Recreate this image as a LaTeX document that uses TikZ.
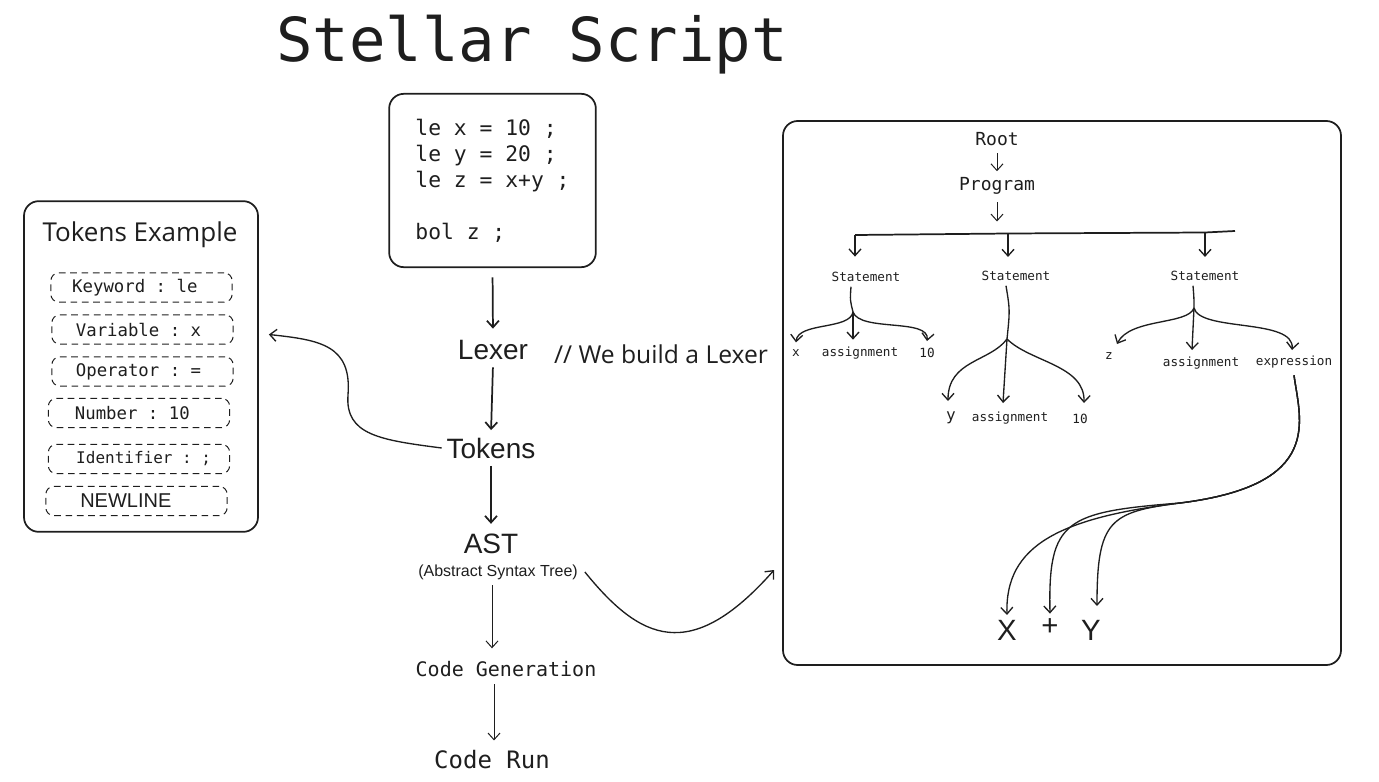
\documentclass[tikz,border=0pt]{standalone}
\usepackage{fontspec}
\setmainfont{Liberation Sans}
\setmonofont{DejaVu Sans Mono}
\newfontfamily\handfont{Open Sans}
\usetikzlibrary{arrows.meta,calc}

\definecolor{ink}{HTML}{1E1E1E}

\tikzset{every picture/.style={line width=0.75pt}}
\tikzset{
  arr/.style={-{Straight Barb[length=5pt,width=9pt]}},
  bigbox/.style={draw, rounded corners=11pt, line width=1.3pt},
  tokbox/.style={draw, dashed, dash pattern=on 5pt off 3.5pt, rounded corners=6pt,
    minimum width=136pt, minimum height=22pt, font=\ttfamily\fontsize{13}{15}\selectfont},
  stage/.style={font=\fontsize{21}{24}\selectfont},
  monostage/.style={font=\ttfamily\fontsize{15}{18}\selectfont},
  treehead/.style={font=\ttfamily\fontsize{13.5}{16}\selectfont},
  stmt/.style={font=\ttfamily\fontsize{9.5}{11}\selectfont},
  leaf/.style={font=\ttfamily\fontsize{9.5}{11}\selectfont, inner sep=5pt},
  expr/.style={font=\fontsize{22}{24}\selectfont},
  link/.style={line width=1pt}
}

\begin{document}
\begin{tikzpicture}[x=0.75pt,y=0.75pt,yscale=-1,xscale=1,draw=ink,text=ink]
\useasboundingbox (0,0) rectangle (1379,782);

% Title
\node (title) at (532,45) {\ttfamily\fontsize{45.5}{50}\selectfont Stellar Script};

% Code Box
\node [bigbox, minimum width=155pt, minimum height=130pt, inner xsep=17pt, align=left,
  font=\ttfamily\fontsize{16}{19.5}\selectfont] (code) at (492.5,180.5)
  {le x = 10 ;\hspace*{2pt}\\le y = 20 ;\\le z = x+y ;\\[19.5pt]bol z ;};

% Pipeline
\node [stage] (lexer) at (493,350) {Lexer};
\node [font=\handfont\fontsize{18.5}{20}\selectfont] (note) at (661,354) {// We build a Lexer};
\node [stage] (tok) at (491,448) {Tokens};
\node [stage] (ast) at (491,544) {AST};
\node [font=\fontsize{12}{14}\selectfont, inner sep=2pt] (astsub) at (498,572) {(Abstract Syntax Tree)};
\node [monostage] (codegen) at (506,669) {Code Generation};
\node [font=\ttfamily\fontsize{18}{20}\selectfont] (coderun) at (492,760) {Code Run};

% Tokens Example
\node [bigbox, minimum width=175.5pt, minimum height=248pt] (tex) at (141,366.5) {};
\node [font=\handfont\fontsize{19.5}{22}\selectfont] (textitle) at (140,235) {Tokens Example};
\node [tokbox] (tk1) at (141.5,287.5) {Keyword : le\hspace*{10pt}};
\node [tokbox] (tk2) at (142.5,329.5) {Variable : x\hspace*{6pt}};
\node [tokbox] (tk3) at (142.5,371.5) {Operator : =\hspace*{6pt}};
\node [tokbox] (tk4) at (139,413) {Number : 10\hspace*{10pt}};
\node [tokbox, font=\ttfamily\fontsize{12}{14}\selectfont] (tk5) at (139,459) {\hspace*{7pt}Identifier : ;};
\node [tokbox, font=\fontsize{15}{17}\selectfont] (tk6) at (136.5,501) {NEWLINE\hspace*{16pt}};

% Tree Box
\node [bigbox, minimum width=418.5pt, minimum height=408pt] (tree) at (1062,393) {};
\node [treehead] (root) at (997,139) {Root};
\node [treehead] (prog) at (997,186) {Program};
\coordinate (barl) at (855,235);
\coordinate (bar2) at (1008,233.5);
\coordinate (bar3) at (1205,232.5);
\coordinate (barr) at (1235,231);
\node [stmt] (st1) at (866,277) {Statement};
\node [stmt] (st2) at (1016,276) {Statement};
\node [stmt] (st3) at (1205,276) {Statement};
\coordinate (f1) at (853,312);
\coordinate (f2) at (1007,339);
\coordinate (f3) at (1194,308);
\node [leaf] (c1x) at (796,353) {x};
\node [leaf] (c1a) at (860,353) {assignment};
\node [leaf] (c1t) at (927,353) {10};
\node [leaf, font=\ttfamily\fontsize{12}{14}\selectfont] (c2y) at (951,418) {y};
\node [leaf] (c2a) at (1010,418) {assignment};
\node [leaf] (c2t) at (1080,419) {10};
\node [leaf] (c3z) at (1109,356) {z};
\node [leaf] (c3a) at (1201,363) {assignment};
\node [leaf] (c3e) at (1294,362) {expression};
\node [expr] (ex) at (1007,630) {X};
\node [expr] (ep) at (1050,627) {+};
\node [expr] (ey) at (1091,630) {Y};

% Connection
\draw [arr, line width=1.3pt, shorten <=7pt, shorten >=5pt] (code.south) -- (lexer.north);
\draw [arr, line width=1.3pt, shorten <=2pt, shorten >=2pt] (lexer.south) -- (tok.north);
\draw [arr, line width=1.3pt, shorten <=2pt, shorten >=4pt] (tok.south) -- (ast.north);
\draw [arr, shorten <=2pt, shorten >=6pt] ($(astsub.south)+(-6,0)$) -- ($(astsub.south |- codegen.north)+(-6,0)$);
\draw [arr, shorten <=2pt, shorten >=4pt] ($(codegen.south)+(-12,0)$) -- ($(codegen.south |- coderun.north)+(-12,0)$);
\draw [arr, link] (tok.west) .. controls (380,440) and (345,435) .. (348,395)
  .. controls (352,345) and (320,340) .. ($(tex.east)+(10,-32)$);
\draw [arr, link] ($(astsub.east)+(4,0)$) .. controls (640,640) and (690,665) .. ($(tree.west)+(-8,177)$);

% Tree connections
\draw [arr, shorten <=2pt, shorten >=1pt] (root.south) -- (prog.north);
\draw [arr, shorten <=2pt, shorten >=9pt] (prog.south) -- (prog.south |- bar2);
\draw [line width=1.3pt] (barl) -- (bar2) -- (bar3) -- (barr);
\draw [arr, link, shorten >=8pt] (barl) -- (barl |- st1.north);
\draw [arr, link, shorten >=7pt] (bar2) -- (bar2 |- st2.north);
\draw [arr, link, shorten >=7pt] (bar3) -- (bar3 |- st3.north);

\draw [link] ($(st1.south)+(-15,0)$) .. controls (850,300) .. (f1);
\draw [arr, link] (f1) .. controls (850,330) and (798,322) .. (c1x.north);
\draw [arr, link] (f1) -- (f1 |- c1a.north);
\draw [arr, link] (f1) .. controls (860,332) and (930,318) .. (c1t.north);

\draw [link] ($(st2.south)+(-10,0)$) .. controls (1010,310) .. (f2);
\draw [arr, link] (f2) .. controls (990,362) and (948,360) .. (948,401);
\draw [arr, link] (f2) -- (1003,403);
\draw [arr, link] (f2) .. controls (1030,362) and (1085,365) .. (1084,403);

\draw [link] ($(st3.south)+(-12,0)$) .. controls (1194,298) .. (f3);
\draw [arr, link] (f3) .. controls (1188,325) and (1130,318) .. (1117,344);
\draw [arr, link] (f3) -- (1192,350);
\draw [arr, link] (f3) .. controls (1200,332) and (1295,318) .. (1292,350);

\draw [arr, link] (c3e.south) .. controls (1300,420) and (1325,485) .. (1180,503)
  .. controls (1060,518) and (1005,545) .. (ex.north);
\draw [arr, link] (c3e.south) .. controls (1300,420) and (1325,485) .. (1180,503)
  .. controls (1065,512) and (1048,520) .. (ep.north);
\draw [arr, link] (c3e.south) .. controls (1300,420) and (1325,485) .. (1180,503)
  .. controls (1110,512) and (1097,520) .. (1097,606);

\end{tikzpicture}
\end{document}
